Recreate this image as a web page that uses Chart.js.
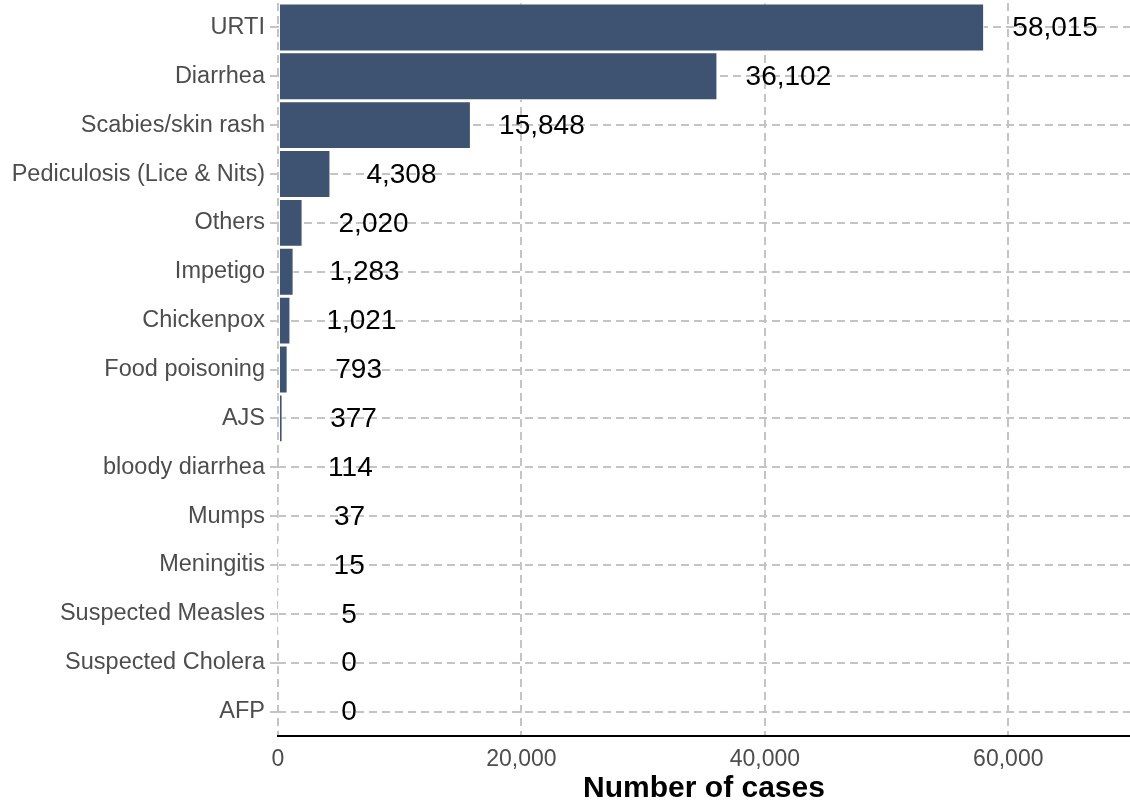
<!DOCTYPE html>
<html>
<head>
<meta charset="utf-8">
<script src="https://cdn.jsdelivr.net/npm/chart.js@4.4.0/dist/chart.umd.min.js"></script>
<style>
  html, body { margin: 0; padding: 0; background: #ffffff; }
  #wrap { width: 1130px; height: 800px; }
</style>
</head>
<body>
<div id="wrap"><canvas id="chartCases" width="1130" height="800"></canvas></div>
<script>
const diseases = [
  "URTI", "Diarrhea", "Scabies/skin rash", "Pediculosis (Lice & Nits)", "Others",
  "Impetigo", "Chickenpox", "Food poisoning", "AJS", "bloody diarrhea",
  "Mumps", "Meningitis", "Suspected Measles", "Suspected Cholera", "AFP"
];
const cases = [58015, 36102, 15848, 4308, 2020, 1283, 1021, 793, 377, 114, 37, 15, 5, 0, 0];
const xTicks = [0, 20000, 40000, 60000];
const xMax = 70000;

const fontFamily = "'Liberation Sans', Arial, sans-serif";
const gridColor = "#c4c4c4";

// value labels, centred a fixed distance to the right of each bar end
const valueLabels = {
  id: "valueLabels",
  afterDatasetsDraw(chart) {
    const ctx = chart.ctx;
    const xScale = chart.scales.x;
    const meta = chart.getDatasetMeta(0);
    ctx.save();
    ctx.font = "28px " + fontFamily;
    ctx.fillStyle = "#000000";
    ctx.textAlign = "center";
    ctx.textBaseline = "middle";
    meta.data.forEach((bar, i) => {
      const x = xScale.getPixelForValue(cases[i]) + 71;
      ctx.fillText(cases[i].toLocaleString("en-US"), x, bar.y + 1);
    });
    ctx.restore();
  }
};

new Chart(document.getElementById("chartCases").getContext("2d"), {
  type: "bar",
  data: {
    labels: diseases,
    datasets: [{
      data: cases,
      backgroundColor: "#3e5272",
      borderColor: "#ffffff",
      borderWidth: 1,
      borderSkipped: false,
      barPercentage: 0.98,
      categoryPercentage: 1
    }]
  },
  options: {
    indexAxis: "y",
    responsive: false,
    animation: false,
    layout: { padding: { top: 3, right: 0, bottom: 0, left: 0 } },
    plugins: {
      legend: { display: false },
      tooltip: { enabled: false }
    },
    scales: {
      x: {
        min: 0,
        max: xMax,
        afterBuildTicks(scale) {
          scale.ticks = xTicks.map(v => ({ value: v }));
        },
        afterFit(scale) {
          scale.height = 64;
          scale.paddingLeft = 0;
          scale.paddingRight = 0;
        },
        grid: {
          color: gridColor,
          lineWidth: 2,
          drawTicks: false
        },
        border: { display: true, color: "#000000", width: 2, dash: [8, 5] },
        ticks: {
          color: "#4d4d4d",
          padding: 10,
          font: { size: 23, family: fontFamily },
          callback: v => v.toLocaleString("en-US")
        },
        title: {
          display: true,
          text: "Number of cases",
          color: "#000000",
          padding: { top: 0, bottom: 0 },
          font: { size: 30, weight: "bold", family: fontFamily, lineHeight: 0.75 }
        }
      },
      y: {
        afterFit(scale) {
          scale.width = 278;
          scale.paddingTop = 0;
          scale.paddingBottom = 0;
        },
        grid: {
          color: gridColor,
          lineWidth: 2,
          offset: false,
          tickLength: 8,
          tickBorderDash: [8, 5]
        },
        border: { display: false, dash: [8, 5] },
        ticks: {
          color: "#4d4d4d",
          padding: 5,
          font: { size: 23.5, family: fontFamily }
        }
      }
    }
  },
  plugins: [valueLabels]
});
</script>
</body>
</html>
